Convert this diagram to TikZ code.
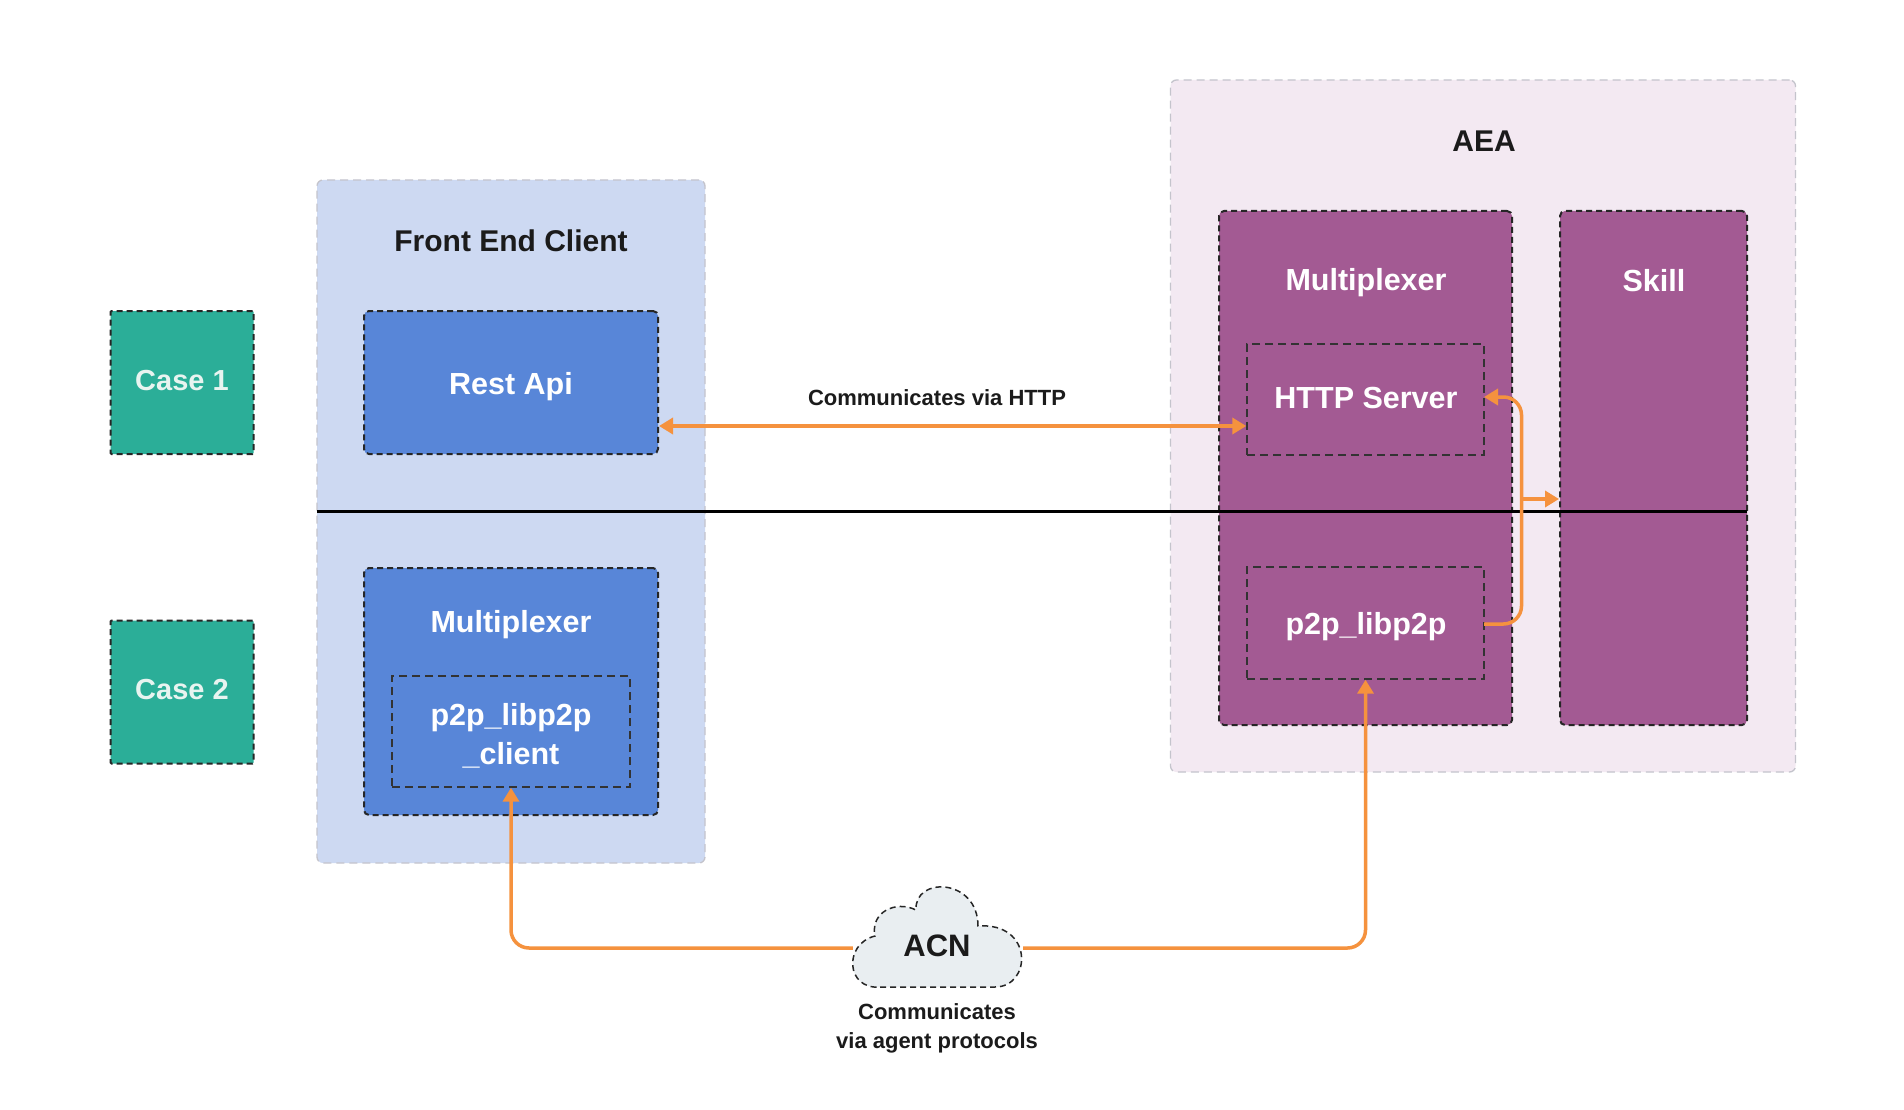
\documentclass[tikz,border=0pt]{standalone}
\usepackage{fontspec}
\setmainfont{Liberation Sans}
\usetikzlibrary{arrows.meta,calc}
\definecolor{fecbg}{HTML}{CDD9F2}
\definecolor{aeabg}{HTML}{F3E9F2}
\definecolor{boxblue}{HTML}{5886D8}
\definecolor{boxgreen}{HTML}{2BAE98}
\definecolor{boxpurple}{HTML}{A35A93}
\definecolor{flowor}{HTML}{F5923E}
\definecolor{cloudbg}{HTML}{E9EEF1}
\definecolor{darktext}{HTML}{1B1B1B}
\definecolor{contline}{HTML}{C4C4CC}
\definecolor{casetext}{HTML}{E8F4F0}
\tikzset{
  container/.style={draw=contline, line width=1.3pt, dash pattern=on 8pt off 5pt, rounded corners=6pt, fill=#1, inner sep=0pt},
  colbox/.style={draw=black!85, line width=2pt, dash pattern=on 6pt off 4pt, rounded corners=5pt, fill=#1, inner sep=0pt},
  innerbox/.style={draw=black!80, line width=1.4pt, dash pattern=on 8pt off 5pt, inner sep=0pt},
  boxlabel/.style={text=white, font=\fontsize{30.5}{38}\selectfont\bfseries, align=center},
  caselabel/.style={text=casetext, font=\fontsize{29}{34}\selectfont\bfseries},
  title/.style={text=darktext, font=\fontsize{30}{36}\selectfont\bfseries},
  note/.style={text=darktext, font=\fontsize{22}{29}\selectfont\bfseries, align=center},
  flow/.style={draw=flowor, line width=3.5pt, rounded corners=18pt},
  tip/.style={-{Triangle[length=14pt,width=16pt]}},
}
\begin{document}
\begin{tikzpicture}[x=1pt,y=-1pt]
\useasboundingbox[fill=white] (0,0) rectangle (1904,1110);
% containers
\node[container=fecbg, minimum width=388pt, minimum height=683pt] (fec) at (511,521.5) {};
\node[container=aeabg, minimum width=625pt, minimum height=692pt] (aea) at (1483,426) {};
\node[title] (fectitle) at (511,241) {Front End Client};
\node[title] (aeatitle) at (1484,141) {AEA};
% cases
\node[colbox=boxgreen, minimum width=143pt, minimum height=143pt, rounded corners=1pt] (case1) at (182,382.5) {};
\node[caselabel] (case1t) at (182,381) {Case 1};
\node[colbox=boxgreen, minimum width=143pt, minimum height=143pt, rounded corners=1pt] (case2) at (182,692) {};
\node[caselabel] (case2t) at (182,690) {Case 2};
% front end boxes
\node[colbox=boxblue, minimum width=294pt, minimum height=143pt] (rest) at (511,382.5) {};
\node[boxlabel] (restt) at (511,387) {Rest Api};
\node[colbox=boxblue, minimum width=294pt, minimum height=247pt] (muxl) at (511,691.5) {};
\node[boxlabel] (muxlt) at (511,625) {Multiplexer};
\node[innerbox, minimum width=238pt, minimum height=111pt] (client) at (511,731.5) {};
\node[boxlabel, font=\fontsize{30.5}{39}\selectfont\bfseries] (clientt) at (511,736) {p2p\_libp2p\\\_client};
% AEA boxes
\node[colbox=boxpurple, minimum width=293pt, minimum height=514pt] (muxr) at (1365.5,468) {};
\node[boxlabel] (muxrt) at (1366,283) {Multiplexer};
\node[colbox=boxpurple, minimum width=187pt, minimum height=514pt] (skill) at (1653.5,468) {};
\node[boxlabel] (skillt) at (1654,280.5) {Skill};
\node[innerbox, minimum width=237pt, minimum height=111pt] (http) at (1365.5,399.5) {};
\node[boxlabel] (httpt) at (1366,397.5) {HTTP Server};
\node[innerbox, minimum width=237pt, minimum height=112pt] (p2p) at (1365.5,623) {};
\node[boxlabel] (p2pt) at (1366,627) {p2p\_libp2p};
% separator line
\coordinate (sepL) at (317,511);
\coordinate (sepR) at (1747,511);
\draw[black, line width=3pt] (sepL) -- (sepR);
% HTTP connector
\coordinate (httpy) at (0,426);
\draw[flow, {Triangle[length=14pt,width=16pt]}-{Triangle[length=14pt,width=16pt]}] (rest.east |- httpy) -- (http.west |- httpy);
\node[note] (httpnote) at (937,398) {Communicates via HTTP};
% internal loop
\coordinate (loopx) at (1521.5,0);
\coordinate (httpin) at (1484,397);
\coordinate (p2pout) at (1484,624);
\draw[flow, tip] (p2pout) -- (loopx |- p2pout) -- (loopx |- httpin) -- (httpin);
\coordinate (branch) at (1521.5,499);
\draw[flow, rounded corners=0pt, tip] (branch) -- (skill.west |- branch);
% cloud
\node[minimum width=170pt, minimum height=10pt, inner sep=0pt] (acn) at (938,948) {};
\draw[fill=cloudbg, draw=black!85, line width=1.5pt, dash pattern=on 6pt off 4pt]
  (880,987) -- (995,987)
  .. controls (1032,987) and (1034,922) .. (978,926)
  .. controls (978,878) and (914,876) .. (916,910)
  .. controls (896,900) and (870,912) .. (875,936)
  .. controls (843,944) and (846,990) .. (880,987) -- cycle;
\node[title, font=\fontsize{31}{36}\selectfont\bfseries] (acnt) at (937,946) {ACN};
\draw[flow, tip] (acn.west) -| (client.south);
\draw[flow, tip] (acn.east) -| (p2p.south);
\node[note] (acnnote) at (937,1028.5) {Communicates\\via agent protocols};
\end{tikzpicture}
\end{document}
